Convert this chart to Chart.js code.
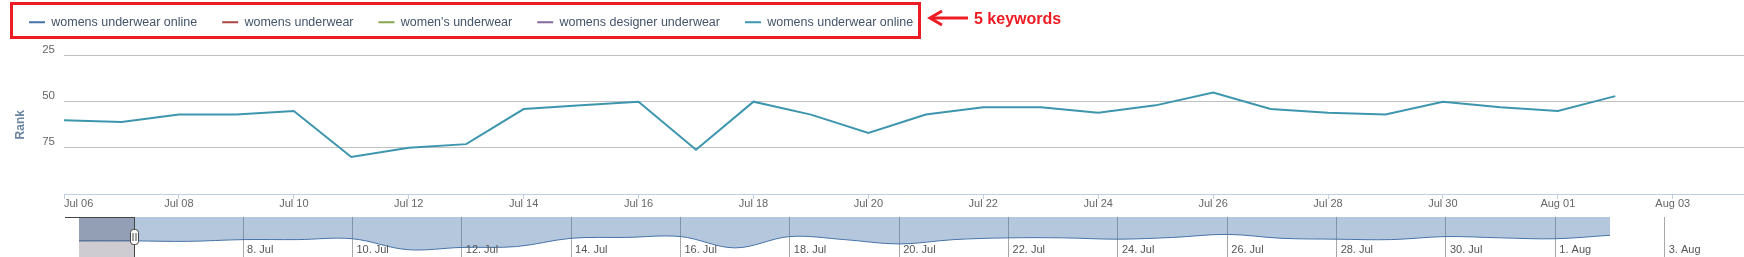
<!DOCTYPE html>
<html>
<head>
<meta charset="utf-8">
<title>Keyword rank</title>
<script src="https://cdn.jsdelivr.net/npm/chart.js@4.4.0/dist/chart.umd.min.js"></script>
<style>
html,body{margin:0;padding:0;background:#fff;overflow:hidden;}
#wrap{position:relative;width:1744px;height:257px;overflow:hidden;}
#mainChart{position:absolute;left:0;top:0;}
#navChart{position:absolute;left:0;top:216px;}
#redBox{position:absolute;left:10px;top:2px;width:911px;height:37px;border:3px solid #ed1c24;box-sizing:border-box;pointer-events:none;}
#arrow{position:absolute;left:926px;top:8px;}
#note{position:absolute;left:974px;top:11px;font:bold 16px/16px "Liberation Sans",Arial,sans-serif;color:#ed1c24;white-space:nowrap;}
</style>
</head>
<body>
<div id="wrap">
  <canvas id="mainChart" width="1744" height="216"></canvas>
  <canvas id="navChart" width="1744" height="61"></canvas>
  <div id="redBox"></div>
  <svg id="arrow" width="46" height="20" viewBox="0 0 46 20">
    <line x1="5" y1="10" x2="42" y2="10" stroke="#ed1c24" stroke-width="3"/>
    <polyline points="16,3 4,10 16,17" fill="none" stroke="#ed1c24" stroke-width="3"/>
  </svg>
  <div id="note">5 keywords</div>
</div>
<script>
// ---- data ----
const keywords = ['womens underwear online', 'womens underwear', "women's underwear",
    'womens designer underwear', 'womens underwear online'];
const seriesColors = ['#4572A7', '#AA4643', '#89A54E', '#80699B', '#3D96AE'];

// daily rank, Jul 05 .. Aug 02 (only the last keyword has data)
const dates = ['Jul 05','Jul 06','Jul 07','Jul 08','Jul 09','Jul 10','Jul 11','Jul 12','Jul 13',
    'Jul 14','Jul 15','Jul 16','Jul 17','Jul 18','Jul 19','Jul 20','Jul 21','Jul 22','Jul 23',
    'Jul 24','Jul 25','Jul 26','Jul 27','Jul 28','Jul 29','Jul 30','Jul 31','Aug 01','Aug 02'];
const ranks = [60, 60, 61, 57, 57, 55, 80, 75, 73, 54, 52, 50, 76, 50, 57, 67,
    57, 53, 53, 56, 52, 45, 54, 56, 57, 50, 53, 55, 47];

const tickLabels = ['Jul 06','Jul 08','Jul 10','Jul 12','Jul 14','Jul 16','Jul 18','Jul 20',
    'Jul 22','Jul 24','Jul 26','Jul 28','Jul 30','Aug 01','Aug 03'];
const navTickLabels = ['8. Jul','10. Jul','12. Jul','14. Jul','16. Jul','18. Jul','20. Jul',
    '22. Jul','24. Jul','26. Jul','28. Jul','30. Jul','1. Aug','3. Aug'];
const yTicks = [25, 50, 75, 100];

// x is days from Jul 06
const points = dates.map((d, i) => ({x: i - 1, y: ranks[i]}));
const rangeStart = 0, rangeEnd = 29.24;

Chart.defaults.font.family = '"Liberation Sans", Arial, sans-serif';
Chart.defaults.animation = false;

// push the plot down below the legend row
const legendGap = {
    id: 'legendGap',
    beforeInit(chart){
        const fit = chart.legend.fit;
        chart.legend.fit = function(){ fit.call(this); this.height += 17; };
    }
};

new Chart(document.getElementById('mainChart'), {
    type: 'line',
    data: {
        datasets: keywords.map((k, i) => ({
            label: k,
            data: i === keywords.length - 1 ? points : [],
            borderColor: seriesColors[i],
            backgroundColor: seriesColors[i],
            borderWidth: 2, pointRadius: 0, tension: 0, fill: false
        }))
    },
    options: {
        responsive: false,
        events: [],
        layout: {padding: {top: -9, left: 4, right: 0, bottom: 0}},
        plugins: {
            tooltip: {enabled: false},
            legend: {
                align: 'start',
                labels: {
                    boxWidth: 16, boxHeight: 2, padding: 25, color: '#44546a',
                    font: {size: 12.5},
                    generateLabels: chart => Chart.defaults.plugins.legend.labels.generateLabels(chart)
                        .map(l => Object.assign(l, {lineWidth: 0}))
                }
            }
        },
        scales: {
            x: {
                type: 'linear', min: rangeStart, max: rangeEnd,
                afterBuildTicks: s => { s.ticks = tickLabels.map((t, i) => ({value: i * 2})).concat([{value: s.max}]); },
                afterFit: s => { s.height = 22; },
                ticks: {
                    autoSkip: false, maxRotation: 0, align: 'inner', padding: -2,
                    color: '#666', font: {size: 11},
                    callback: (v, i) => tickLabels[i] || ''
                },
                grid: {
                    drawOnChartArea: false, drawTicks: true, tickLength: 5, color: '#C0D0E0',
                    tickColor: ctx => ctx.index < tickLabels.length ? '#C0D0E0' : 'rgba(0,0,0,0)'
                },
                border: {color: '#C0D0E0', width: 1}
            },
            y: {
                reverse: true, min: 25, max: 100,
                afterBuildTicks: s => { s.ticks = yTicks.map(v => ({value: v})); },
                afterFit: s => { s.width = 60; },
                ticks: {
                    padding: 9, labelOffset: -6, color: '#666', font: {size: 11.5},
                    callback: v => v === 100 ? '' : v
                },
                grid: {
                    drawTicks: false,
                    color: ctx => ctx.tick && ctx.tick.value === 100 ? 'rgba(0,0,0,0)' : '#C0C0C0'
                },
                border: {display: false},
                title: {
                    display: true, text: 'Rank', color: '#6D869F',
                    font: {size: 12, weight: 'bold'}, padding: {top: 9, bottom: 0}
                }
            }
        }
    },
    plugins: [legendGap]
});

// ---- navigator strip ----
const navMask = {
    id: 'navMask',
    afterDatasetsDraw(chart){
        const {ctx, chartArea: a, scales: {x}} = chart;
        ctx.save();
        // axis labels sit inside the strip, right of their grid line
        ctx.fillStyle = '#555';
        ctx.font = '11px "Liberation Sans", Arial, sans-serif';
        ctx.textBaseline = 'middle';
        ctx.textAlign = 'left';
        x.ticks.forEach((t, i) => ctx.fillText(navTickLabels[i], x.getPixelForValue(t.value) + 4, a.bottom - 7));

        const hx = Math.round(x.getPixelForValue(rangeStart)) + 0.5;
        const my = Math.round((a.top + a.bottom) / 2);
        ctx.fillStyle = 'rgba(9,0,20,0.2)';
        ctx.fillRect(a.left, a.top, hx - a.left, a.bottom - a.top);
        ctx.strokeStyle = '#444';
        ctx.lineWidth = 1;
        ctx.beginPath();
        ctx.moveTo(a.left - 14, a.top + 0.5);
        ctx.lineTo(hx, a.top + 0.5);
        ctx.lineTo(hx, a.bottom);
        ctx.stroke();
        ctx.beginPath();
        ctx.roundRect(hx - 4, my - 7.5, 8, 15, 3);
        ctx.fillStyle = '#fff';
        ctx.fill();
        ctx.stroke();
        ctx.beginPath();
        ctx.moveTo(hx - 1.5, my - 4); ctx.lineTo(hx - 1.5, my + 4);
        ctx.moveTo(hx + 1.5, my - 4); ctx.lineTo(hx + 1.5, my + 4);
        ctx.stroke();
        ctx.restore();
    }
};

new Chart(document.getElementById('navChart'), {
    type: 'line',
    data: {
        datasets: [{
            data: points,
            borderColor: '#4572A7',
            backgroundColor: 'rgba(69,114,167,0.4)',
            borderWidth: 1, pointRadius: 0, tension: 0.35, fill: 'end'
        }]
    },
    options: {
        responsive: false,
        events: [],
        layout: {padding: {top: 1, left: 79, right: 0, bottom: 0}},
        plugins: {legend: {display: false}, tooltip: {enabled: false}},
        scales: {
            x: {
                type: 'linear', min: -1, max: 29.45,
                afterBuildTicks: s => { s.ticks = navTickLabels.map((t, i) => ({value: 2 + i * 2})); },
                afterFit: s => { s.height = 20; },
                ticks: {display: false},
                grid: {drawTicks: false, color: '#a8a8a8'},
                border: {display: false}
            },
            y: {display: false, reverse: true, min: 5, max: 97}
        }
    },
    plugins: [navMask]
});
</script>
</body>
</html>
